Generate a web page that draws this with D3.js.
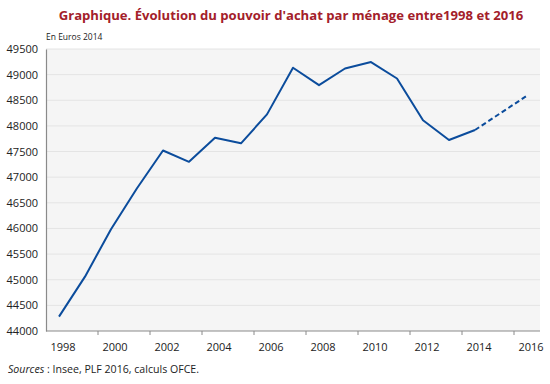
<!DOCTYPE html>
<html><head><meta charset="utf-8">
<script src="https://cdn.jsdelivr.net/npm/d3@7"></script>
<style>body{margin:0;background:#fff;} svg{display:block;}</style>
</head><body>
<script>
const years = [1998,1999,2000,2001,2002,2003,2004,2005,2006,2007,2008,2009,2010,2011,2012,2013,2014,2015,2016];
const values = [44280,45060,45985,46785,47520,47300,47770,47660,48225,49135,48795,49120,49245,48925,48110,47725,47920,48255,48590];
const forecastFrom = 2014;
const yTicks = [44000,44500,45000,45500,46000,46500,47000,47500,48000,48500,49000,49500];
const xLabels = [1998,2000,2002,2004,2006,2008,2010,2012,2014,2016];
const titleText = "Graphique. Évolution du pouvoir d'achat par ménage entre1998 et 2016";
const unitText = "En Euros 2014";

(function(){
const W = 550, H = 384;
const svg = d3.select("body").append("svg").attr("width", W).attr("height", H);
const mLeft = 46, mRight = 540, mTop = 49, mBottom = 331;

const x = d3.scaleBand().domain(years).range([mLeft, mRight]);
const y = d3.scaleLinear().domain([44000, 49500]).range([mBottom, mTop]);
const cx = d => x(d) + x.bandwidth() / 2;

svg.append("rect").attr("x", mLeft).attr("y", mTop).attr("width", mRight - mLeft).attr("height", mBottom - mTop).attr("fill", "#f5f5f5");

svg.append("g").selectAll("line").data(yTicks.filter(v => v > 44000)).join("line")
  .attr("x1", mLeft).attr("x2", mRight).attr("y1", d => y(d)).attr("y2", d => y(d))
  .attr("stroke", "#e4e4e4").attr("stroke-width", 1);

const yAxis = d3.axisLeft(y).tickValues(yTicks).tickSize(0).tickPadding(8).tickFormat(d3.format("d"));
const gy = svg.append("g").attr("transform", `translate(${mLeft},0)`).call(yAxis);
gy.select(".domain").attr("stroke", "#8a8a8a").attr("stroke-width", 1.2);
gy.selectAll("text").attr("font-family", "'Open Sans', sans-serif").attr("font-size", 11).attr("fill", "#222");

const bx = svg.append("g");
bx.append("line").attr("x1", mLeft).attr("x2", mRight).attr("y1", mBottom).attr("y2", mBottom).attr("stroke", "#8a8a8a").attr("stroke-width", 1.2);
const tickYears = years.filter(d => d % 2 === 1);
bx.selectAll("line.tk").data(tickYears).join("line").attr("class", "tk")
  .attr("x1", d => x(d) + x.bandwidth()).attr("x2", d => x(d) + x.bandwidth())
  .attr("y1", mBottom).attr("y2", mBottom + 4).attr("stroke", "#8a8a8a").attr("stroke-width", 1);
bx.selectAll("text").data(xLabels).join("text")
  .attr("x", d => cx(d) + 4).attr("y", mBottom + 20).attr("text-anchor", "middle")
  .attr("font-family", "'Open Sans', sans-serif").attr("font-size", 11).attr("fill", "#222")
  .text(d => d);

const line = d3.line().x(d => cx(d[0])).y(d => y(d[1]));
const pts = years.map((yr, i) => [yr, values[i]]);
svg.append("path").datum(pts.filter(d => d[0] <= forecastFrom)).attr("d", line)
  .attr("fill", "none").attr("stroke", "#0b4c9c").attr("stroke-width", 2).attr("stroke-linejoin", "round");
svg.append("path").datum(pts.filter(d => d[0] >= forecastFrom)).attr("d", line)
  .attr("fill", "none").attr("stroke", "#0b4c9c").attr("stroke-width", 2).attr("stroke-dasharray", "5,3");

svg.append("text").attr("x", 291).attr("y", 20).attr("text-anchor", "middle")
  .attr("font-family", "'Open Sans', sans-serif").attr("font-weight", "bold").attr("font-size", 13.1)
  .attr("fill", "#a3202a").text(titleText);
svg.append("text").attr("x", mLeft).attr("y", 40)
  .attr("font-family", "'Open Sans', sans-serif").attr("font-size", 8.5).attr("fill", "#222").text(unitText);

const src = svg.append("text").attr("x", 8).attr("y", 373)
  .attr("font-family", "'Open Sans', sans-serif").attr("font-size", 10.6).attr("fill", "#222");
src.append("tspan").attr("font-style", "italic").text("Sources");
src.append("tspan").text(" : Insee, PLF 2016, calculs OFCE.");
})();
</script>
</body></html>
